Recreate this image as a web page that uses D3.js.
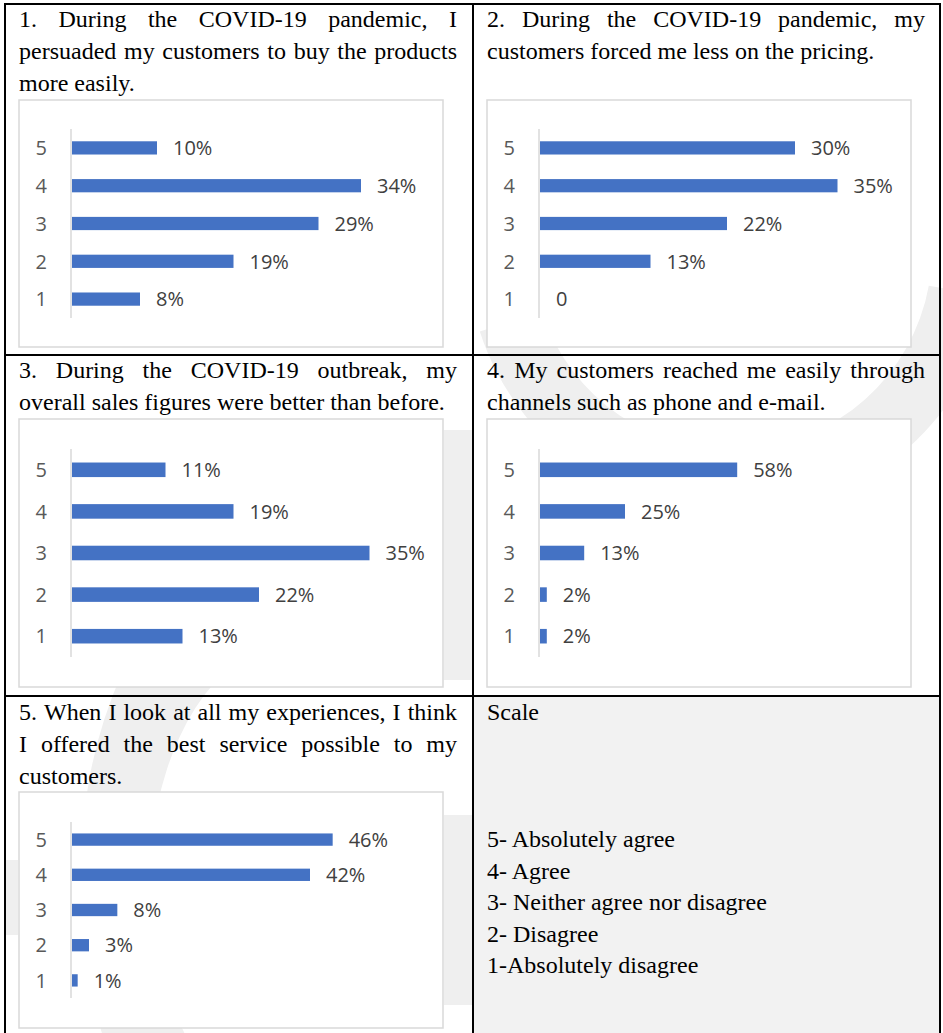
<!DOCTYPE html>
<html>
<head>
<meta charset="utf-8">
<script src="https://cdn.jsdelivr.net/npm/d3@7"></script>
<style>
  body { margin: 0; background: #fff; }
  svg { display: block; }
</style>
</head>
<body>
<div class="chart"></div>
<script>
var fullWidth = 943;
var fullHeight = 1033;

// likert scale categories, top to bottom
var categories = [`5`, `4`, `3`, `2`, `1`];

// percentages per question
var q1Values = [10, 34, 29, 19, 8];
var q2Values = [30, 35, 22, 13, 0];
var q3Values = [11, 19, 35, 22, 13];
var q4Values = [58, 25, 13, 2, 2];
var q5Values = [46, 42, 8, 3, 1];

// axis maximum of each chart (percent)
var axisMax = [40, 40, 40, 100, 60];

var q1Title = [`1. During the COVID-19 pandemic, I`, `persuaded my customers to buy the products`, `more easily.`];
var q2Title = [`2. During the COVID-19 pandemic, my`, `customers forced me less on the pricing.`];
var q3Title = [`3. During the COVID-19 outbreak, my`, `overall sales figures were better than before.`];
var q4Title = [`4. My customers reached me easily through`, `channels such as phone and e-mail.`];
var q5Title = [`5. When I look at all my experiences, I think`, `I offered the best service possible to my`, `customers.`];

var scaleLabels = [`5- Absolutely agree`, `4- Agree`, `3- Neither agree nor disagree`, `2- Disagree`, `1-Absolutely disagree`];

var svg = d3.select(`.chart`)
    .append(`svg`)
    .attr(`width`, fullWidth)
    .attr(`height`, fullHeight)
    .attr(`viewBox`, `0 0 ${fullWidth} ${fullHeight}`);

// faint watermark behind the table
var wm = svg.append(`g`).attr(`fill`, `#efefef`);
wm.append(`path`)
    .attr(`transform`, `translate(732,250)`)
    .attr(`d`, d3.arc()({innerRadius: 200, outerRadius: 265, startAngle: 1.75, endAngle: 4.4}));
wm.append(`path`)
    .attr(`transform`, `translate(300,880) scale(1,1.6)`)
    .attr(`d`, d3.arc()({innerRadius: 150, outerRadius: 220, startAngle: 3.4, endAngle: 6.0}));
wm.append(`rect`)
    .attr(`x`, 444).attr(`y`, 430).attr(`width`, 28).attr(`height`, 250);
wm.append(`rect`)
    .attr(`x`, 444).attr(`y`, 815).attr(`width`, 28).attr(`height`, 190);
wm.append(`rect`)
    .attr(`x`, 6).attr(`y`, 860).attr(`width`, 12).attr(`height`, 75);

// scale cell background
svg.append(`rect`)
    .attr(`x`, 474).attr(`y`, 697)
    .attr(`width`, 466).attr(`height`, 340)
    .attr(`fill`, `#f2f2f2`);

// table grid
var grid = svg.append(`g`).attr(`stroke`, `#000`).attr(`stroke-width`, 2);
grid.append(`line`).attr(`x1`, 5).attr(`x2`, 941).attr(`y1`, 4).attr(`y2`, 4);
grid.append(`line`).attr(`x1`, 5).attr(`x2`, 941).attr(`y1`, 355).attr(`y2`, 355);
grid.append(`line`).attr(`x1`, 5).attr(`x2`, 941).attr(`y1`, 696).attr(`y2`, 696);
grid.append(`line`).attr(`x1`, 5).attr(`x2`, 5).attr(`y1`, 3).attr(`y2`, 1033);
grid.append(`line`).attr(`x1`, 473).attr(`x2`, 473).attr(`y1`, 3).attr(`y2`, 1033);
grid.append(`line`).attr(`x1`, 940).attr(`x2`, 940).attr(`y1`, 3).attr(`y2`, 1033);

// justified paragraph, last line left aligned
function paragraph(lines, x, y, width) {
    var g = svg.append(`g`)
        .attr(`font-family`, `"Liberation Serif", "Times New Roman", serif`)
        .attr(`font-size`, `24px`)
        .attr(`fill`, `#000`);
    lines.forEach(function(line, i) {
        var yy = y + i * 32;
        if (i === lines.length - 1) {
            g.append(`text`).attr(`x`, x).attr(`y`, yy).text(line);
            return;
        }
        var words = line.split(` `);
        var nodes = words.map(w => g.append(`text`).attr(`y`, yy).text(w));
        var total = d3.sum(nodes, n => n.node().getComputedTextLength());
        var gap = (width - total) / (words.length - 1);
        var cx = x;
        nodes.forEach(function(n) {
            n.attr(`x`, cx);
            cx += n.node().getComputedTextLength() + gap;
        });
    });
}

paragraph(q1Title, 19, 27, 438);
paragraph(q2Title, 487, 27, 438);
paragraph(q3Title, 19, 378, 438);
paragraph(q4Title, 487, 378, 438);
paragraph(q5Title, 19, 720, 438);

// scale legend
var sc = svg.append(`g`)
    .attr(`font-family`, `"Liberation Serif", "Times New Roman", serif`)
    .attr(`font-size`, `24px`)
    .attr(`fill`, `#000`);
sc.append(`text`).attr(`x`, 487).attr(`y`, 720).text(`Scale`);
sc.selectAll(`.lbl`)
    .data(scaleLabels)
    .enter().append(`text`)
    .attr(`class`, `lbl`)
    .attr(`x`, 487)
    .attr(`y`, (d, i) => 847 + i * 31.6)
    .text(d => d);

function barChart(values, max, box) {
    var g = svg.append(`g`);
    g.append(`rect`)
        .attr(`x`, box.x).attr(`y`, box.y)
        .attr(`width`, box.w).attr(`height`, box.h)
        .attr(`fill`, `#fff`)
        .attr(`stroke`, `#d9d9d9`)
        .attr(`stroke-width`, 1.5);

    var axisX = box.x + 52;
    var xScale = d3.scaleLinear()
        .domain([0, max])
        .range([axisX + 1, axisX + 341]);

    var yScale = d3.scalePoint()
        .domain(categories)
        .range([box.y + box.top, box.y + box.top + box.plot])
        .padding(0.5);

    var step = yScale.step();
    var barH = step * 0.35;
    var data = categories.map((c, i) => ({cat: c, value: values[i]}));

    g.selectAll(`.bar`)
        .data(data)
        .enter().append(`rect`)
        .attr(`class`, `bar`)
        .attr(`x`, xScale(0))
        .attr(`y`, d => yScale(d.cat) - barH / 2)
        .attr(`width`, d => xScale(d.value) - xScale(0))
        .attr(`height`, barH)
        .style(`fill`, `#4472c4`);

    g.append(`line`)
        .attr(`x1`, axisX).attr(`x2`, axisX)
        .attr(`y1`, box.y + box.top).attr(`y2`, box.y + box.top + box.plot)
        .attr(`stroke`, `#d9d9d9`)
        .attr(`stroke-width`, 1.5);

    g.selectAll(`.tick`)
        .data(categories)
        .enter().append(`text`)
        .attr(`class`, `tick`)
        .attr(`x`, axisX - 24)
        .attr(`y`, d => yScale(d))
        .attr(`dy`, `0.36em`)
        .attr(`text-anchor`, `end`)
        .attr(`font-family`, `"Open Sans", sans-serif`)
        .attr(`font-size`, `20px`)
        .attr(`fill`, `#595959`)
        .text(d => d);

    g.selectAll(`.val`)
        .data(data)
        .enter().append(`text`)
        .attr(`class`, `val`)
        .attr(`x`, d => xScale(d.value) + 16)
        .attr(`y`, d => yScale(d.cat))
        .attr(`dy`, `0.36em`)
        .attr(`font-family`, `"Open Sans", sans-serif`)
        .attr(`font-size`, `20px`)
        .attr(`fill`, `#404040`)
        .text(d => d.value === 0 ? `0` : d.value + `%`);
}

barChart(q1Values, axisMax[0], {x: 19, y: 100, w: 424, h: 247, top: 29, plot: 189});
barChart(q2Values, axisMax[1], {x: 487, y: 100, w: 424, h: 247, top: 29, plot: 189});
barChart(q3Values, axisMax[2], {x: 19, y: 419, w: 424, h: 268, top: 30, plot: 208});
barChart(q4Values, axisMax[3], {x: 487, y: 419, w: 424, h: 268, top: 30, plot: 208});
barChart(q5Values, axisMax[4], {x: 19, y: 792, w: 424, h: 236, top: 30, plot: 176});
</script>
</body>
</html>
